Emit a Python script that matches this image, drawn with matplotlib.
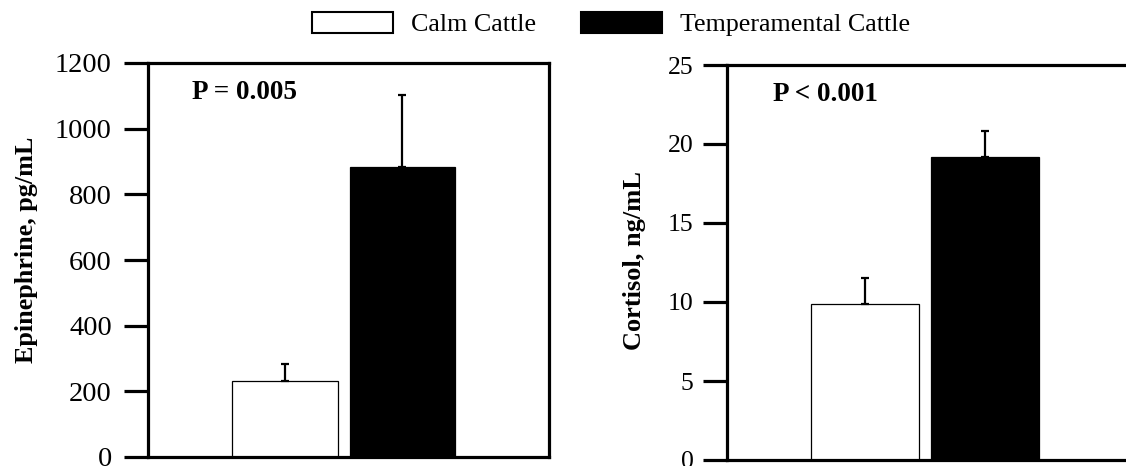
import matplotlib
matplotlib.use("Agg")
import matplotlib.pyplot as plt
from matplotlib.patches import Patch

plt.rcParams['font.family'] = ['Liberation Serif', 'DejaVu Serif']

groups = ["Calm Cattle", "Temperamental Cattle"]
epi_mean = [232, 883]
epi_err = [51, 220]
cort_mean = [9.87, 19.18]
cort_err = [1.67, 1.67]
epi_ticks = [0, 200, 400, 600, 800, 1000, 1200]
cort_ticks = [0, 5, 10, 15, 20, 25]
p_texts = ["P = 0.005", "P < 0.001"]
ylabels = ["Epinephrine, pg/mL", "Cortisol, ng/mL"]

W, H = 1126, 466
fig = plt.figure(figsize=(W / 100, H / 100), dpi=100)

def fx(px):
    return px / W

def fy(py):
    return 1 - py / H

ax1 = fig.add_axes([fx(148), fy(457), fx(549) - fx(148), fy(63) - fy(457)])
ax2 = fig.add_axes([fx(727), fy(460), fx(1128) - fx(727), fy(65) - fy(460)])

colors = ["white", "black"]
specs = [
    (ax1, epi_mean, epi_err, epi_ticks, (-1.166, 2.247), 9, 20.5),
    (ax2, cort_mean, cort_err, cort_ticks, (-1.15, 2.19), 7, 18.5),
]
for i, (ax, mean, err, ticks, xl, pad, lsize) in enumerate(specs):
    xs = list(range(len(mean)))
    ax.bar(xs, mean, width=0.9, color=colors, edgecolor="black", linewidth=0.9, zorder=2)
    ax.errorbar(xs, mean, yerr=[[0] * len(err), err], fmt="none", ecolor="black",
                elinewidth=1.6, capsize=3, capthick=1.6, zorder=3)
    ax.set_xlim(*xl)
    ax.set_ylim(ticks[0], ticks[-1])
    ax.set_yticks(ticks)
    ax.set_xticks([])
    ax.tick_params(axis="y", direction="out", length=17, width=2.3, pad=pad, labelsize=lsize)
    for s in ax.spines.values():
        s.set_linewidth(2.3)
    ax.text(0.11 if i == 0 else 0.115, 0.925, p_texts[i], transform=ax.transAxes,
            fontsize=19.5, fontweight="bold", ha="left", va="center")

ax2.spines["right"].set_visible(False)

fig.text(fx(27), fy(250), ylabels[0], rotation=90, ha="center", va="center",
         fontsize=18.8, fontweight="bold")
fig.text(fx(634), fy(260), ylabels[1], rotation=90, ha="center", va="center",
         fontsize=19, fontweight="bold")

handles = [Patch(facecolor=c, edgecolor="black", linewidth=1.5) for c in colors]
fig.legend(handles, groups, loc="center left", bbox_to_anchor=(fx(312), fy(24)),
           ncol=2, frameon=False, fontsize=18.7, handlelength=3.1, handleheight=0.9,
           handletextpad=0.7, columnspacing=1.75, borderpad=0, borderaxespad=0)

fig.savefig("out.png", dpi=100)
